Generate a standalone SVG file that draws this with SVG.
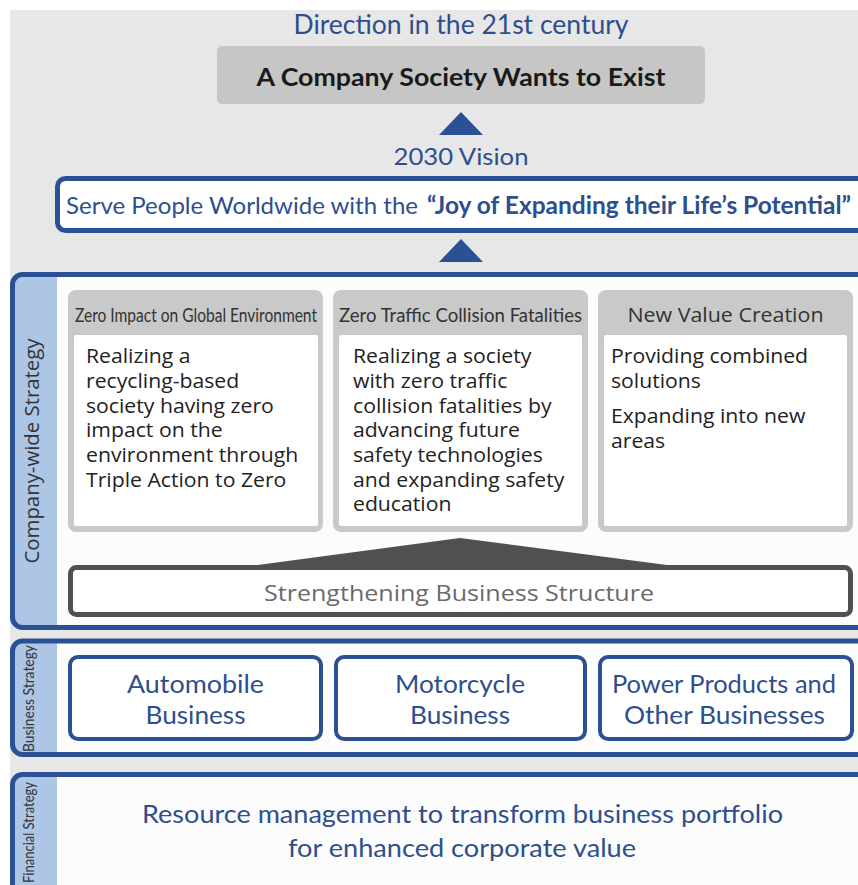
<svg xmlns="http://www.w3.org/2000/svg" width="858" height="885" viewBox="0 0 858 885">
<style>
.cal{font-family:Lato,"Liberation Sans",sans-serif}
.os{font-family:"Open Sans","Liberation Sans",sans-serif}
.blue{fill:#2d4f8e}
.panel{fill:none;stroke:#2c5096;stroke-width:5}
.strip{fill:#adc6e5}
.bbox{fill:#ffffff;stroke:#2c5096;stroke-width:4}
.card{fill:#c9c9c9}
.inner{fill:#ffffff}
.hdr{font-size:17px;fill:#333333}
.body{font-size:19.5px;fill:#222222}
.biz{font-size:25px;text-anchor:middle}
</style>
<rect x="10" y="10" width="848" height="875" fill="#e7e7e7"/>

<g id="direction">
<text class="cal blue" x="461" y="34" font-size="26" text-anchor="middle" textLength="335" lengthAdjust="spacingAndGlyphs">Direction in the 21st century</text>
</g>
<g id="company-society">
<rect x="217" y="46" width="488" height="58" rx="5" fill="#c6c6c6"/>
<text class="cal" x="461" y="86" font-size="25" font-weight="bold" fill="#1a1a1a" text-anchor="middle" textLength="409" lengthAdjust="spacingAndGlyphs">A Company Society Wants to Exist</text>
</g>
<g id="connectors">
<polygon points="461,112 483,135 439,135" fill="#2c5096"/>
<polygon points="461,239 483,262 439,262" fill="#2c5096"/>
</g>
<g id="vision-label">
<text class="cal blue" x="461" y="165" font-size="24" text-anchor="middle" textLength="135" lengthAdjust="spacingAndGlyphs">2030 Vision</text>
</g>
<g id="vision">
<rect x="57.5" y="178.5" width="830" height="52" rx="8" fill="#ffffff" stroke="#2c5096" stroke-width="5"/>
<text class="cal blue" x="66" y="214" font-size="24" textLength="352" lengthAdjust="spacingAndGlyphs">Serve People Worldwide with the</text>
<text class="cal blue" x="427" y="214" font-size="24" font-weight="bold" textLength="424" lengthAdjust="spacingAndGlyphs">“Joy of Expanding their Life’s Potential”</text>
</g>

<g id="company-wide-strategy">
<rect x="12.5" y="274.5" width="880" height="353" rx="10" fill="#fcfcfc"/>
<path d="M12.5,284.5 a10,10 0 0 1 10,-10 H57 V627.5 H22.5 a10,10 0 0 1 -10,-10 Z" class="strip"/>
<rect x="12.5" y="274.5" width="880" height="353" rx="10" class="panel"/>
<text class="os" transform="translate(39,451) rotate(-90)" font-size="20" fill="#333333" text-anchor="middle" textLength="225" lengthAdjust="spacingAndGlyphs">Company-wide Strategy</text>
</g>

<g id="card-environment">
<rect class="card" x="68" y="290" width="255" height="242" rx="8"/>
<rect class="inner" x="74" y="335" width="244" height="191" rx="2"/>
<text class="cal hdr" transform="translate(196,322) scale(1,1.18)" x="0" y="0" text-anchor="middle" textLength="242" lengthAdjust="spacingAndGlyphs">Zero Impact on Global Environment</text>
<text class="os body" transform="matrix(1.087,0,0,1,-7.482,0)">
<tspan x="86" y="363.3">Realizing a</tspan>
<tspan x="86" y="388">recycling-based</tspan>
<tspan x="86" y="412.7">society having zero</tspan>
<tspan x="86" y="437.4">impact on the</tspan>
<tspan x="86" y="462.1">environment through</tspan>
<tspan x="86" y="486.8">Triple Action to Zero</tspan>
</text>
</g>

<g id="card-traffic">
<rect class="card" x="333" y="290" width="255" height="242" rx="8"/>
<rect class="inner" x="339" y="335" width="243" height="191" rx="2"/>
<text class="cal hdr" transform="translate(460.5,322) scale(1,1.18)" x="0" y="0" text-anchor="middle" textLength="243" lengthAdjust="spacingAndGlyphs">Zero Traffic Collision Fatalities</text>
<text class="os body" transform="matrix(1.087,0,0,1,-30.711,0)">
<tspan x="353" y="363.3">Realizing a society</tspan>
<tspan x="353" y="388">with zero traffic</tspan>
<tspan x="353" y="412.7">collision fatalities by</tspan>
<tspan x="353" y="437.4">advancing future</tspan>
<tspan x="353" y="462.1">safety technologies</tspan>
<tspan x="353" y="486.8">and expanding safety</tspan>
<tspan x="353" y="511.5">education</tspan>
</text>
</g>

<g id="card-value">
<rect class="card" x="598" y="290" width="255" height="242" rx="8"/>
<rect class="inner" x="604" y="335" width="243" height="191" rx="2"/>
<text class="os" x="725.5" y="322" font-size="20" fill="#333333" text-anchor="middle" textLength="196" lengthAdjust="spacingAndGlyphs">New Value Creation</text>
<text class="os body" transform="matrix(1.087,0,0,1,-53.157,0)">
<tspan x="611" y="363.3">Providing combined</tspan>
<tspan x="611" y="388">solutions</tspan>
<tspan x="611" y="423.5">Expanding into new</tspan>
<tspan x="611" y="448.2">areas</tspan>
</text>
</g>

<g id="strengthening">
<polygon points="235,568 460,538 690,568" fill="#505050"/>
<rect x="70.5" y="567.5" width="780" height="47" rx="6" fill="#ffffff" stroke="#505050" stroke-width="5"/>
<text class="os" x="459" y="601" font-size="22" fill="#6a6a6a" text-anchor="middle" textLength="390" lengthAdjust="spacingAndGlyphs">Strengthening Business Structure</text>
</g>

<g id="business-strategy">
<rect x="12.5" y="641" width="880" height="113.5" rx="10" fill="#fcfcfc"/>
<path d="M12.5,651 a10,10 0 0 1 10,-10 H57 V754.5 H22.5 a10,10 0 0 1 -10,-10 Z" class="strip"/>
<rect x="12.5" y="641" width="880" height="113.5" rx="10" class="panel"/>
<text class="cal" transform="translate(34,698.5) rotate(-90)" font-size="15.5" fill="#333333" text-anchor="middle" textLength="107" lengthAdjust="spacingAndGlyphs">Business Strategy</text>
</g>

<g id="automobile">
<rect class="bbox" x="70" y="657" width="251" height="82" rx="8"/>
<text class="cal blue biz" x="195.5" y="693" textLength="137" lengthAdjust="spacingAndGlyphs">Automobile</text>
<text class="cal blue biz" x="195.5" y="724" textLength="100" lengthAdjust="spacingAndGlyphs">Business</text>
</g>
<g id="motorcycle">
<rect class="bbox" x="336" y="657" width="249" height="82" rx="8"/>
<text class="cal blue biz" x="460" y="693" textLength="130" lengthAdjust="spacingAndGlyphs">Motorcycle</text>
<text class="cal blue biz" x="460" y="724" textLength="100" lengthAdjust="spacingAndGlyphs">Business</text>
</g>
<g id="power-products">
<rect class="bbox" x="600" y="657" width="252" height="82" rx="8"/>
<text class="cal blue biz" x="724" y="693" textLength="224" lengthAdjust="spacingAndGlyphs">Power Products and</text>
<text class="cal blue biz" x="724.5" y="724" textLength="201" lengthAdjust="spacingAndGlyphs">Other Businesses</text>
</g>

<g id="financial-strategy">
<rect x="12.5" y="774.5" width="880" height="140" rx="10" fill="#fcfcfc"/>
<path d="M12.5,784.5 a10,10 0 0 1 10,-10 H57 V914.5 H12.5 Z" class="strip"/>
<rect x="12.5" y="774.5" width="880" height="140" rx="10" class="panel"/>
<text class="cal" transform="translate(34,832.5) rotate(-90)" font-size="15.5" fill="#333333" text-anchor="middle" textLength="101" lengthAdjust="spacingAndGlyphs">Financial Strategy</text>
<text class="cal blue" x="462.5" y="823" font-size="25" text-anchor="middle" textLength="641" lengthAdjust="spacingAndGlyphs">Resource management to transform business portfolio</text>
<text class="cal blue" x="462" y="857" font-size="25" text-anchor="middle" textLength="348" lengthAdjust="spacingAndGlyphs">for enhanced corporate value</text>
</g>
</svg>
